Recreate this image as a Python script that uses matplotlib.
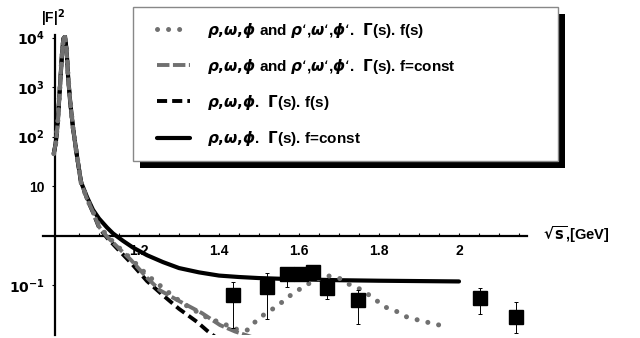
import matplotlib
matplotlib.use("Agg")
import matplotlib.pyplot as plt
from matplotlib.lines import Line2D
from matplotlib.legend_handler import HandlerLine2D
from matplotlib.patches import Rectangle
from matplotlib.transforms import IdentityTransform

plt.rcParams['font.family'] = ['Liberation Sans', 'DejaVu Sans']
plt.rcParams['font.weight'] = 'bold'

# ---- data ----
# common resonance region (phi peak)
x_peak = [0.987, 0.992, 0.997, 1.002, 1.007, 1.011, 1.015, 1.019, 1.023, 1.028, 1.035, 1.045, 1.055]
y_peak = [45, 75, 200, 900, 4000, 9500, 10500, 5500, 1500, 500, 150, 40, 12]

# rho,omega,phi. Gamma(s). f=const  (solid)
x_solid = [1.07, 1.085, 1.10, 1.12, 1.135, 1.16, 1.185, 1.22, 1.26, 1.30, 1.35, 1.40, 1.45, 1.50, 1.60, 1.70, 1.80, 1.90, 2.00]
y_solid = [6.0, 3.3, 2.2, 1.45, 1.1, 0.78, 0.57, 0.40, 0.29, 0.22, 0.18, 0.155, 0.145, 0.138, 0.13, 0.125, 0.122, 0.12, 0.118]

# rho,omega,phi and rho',omega',phi'. Gamma(s). f(s)  (dotted)
x_dot = [1.07, 1.085, 1.10, 1.12, 1.145, 1.18, 1.22, 1.27, 1.31, 1.37, 1.415, 1.447, 1.47, 1.50, 1.53, 1.5575,
         1.58, 1.61, 1.64, 1.67, 1.70, 1.73, 1.757, 1.785, 1.815, 1.845, 1.87, 1.9075, 1.94, 1.97]
y_dot = [5.5, 3.0, 1.6, 1.0, 0.62, 0.34, 0.16, 0.075, 0.042, 0.022, 0.016, 0.0125, 0.0122, 0.0216, 0.031, 0.045,
         0.063, 0.091, 0.126, 0.155, 0.138, 0.098, 0.08, 0.055, 0.036, 0.029, 0.0225, 0.0187, 0.0163, 0.0142]

# rho,omega,phi and rho',omega',phi'. Gamma(s). f=const  (grey long dash)
x_ldash = [1.07, 1.085, 1.10, 1.12, 1.145, 1.18, 1.22, 1.2525, 1.295, 1.3575, 1.4025, 1.44, 1.48]
y_ldash = [5.5, 3.0, 1.5, 0.95, 0.6, 0.32, 0.14, 0.078, 0.05, 0.027, 0.0155, 0.0115, 0.009]

# rho,omega,phi. Gamma(s). f(s)  (black dashed)
x_dash = [1.07, 1.085, 1.10, 1.12, 1.145, 1.18, 1.22, 1.26, 1.30, 1.345, 1.37, 1.39]
y_dash = [5.5, 2.9, 1.45, 0.9, 0.55, 0.28, 0.12, 0.062, 0.033, 0.018, 0.012, 0.009]

# experimental points
x_exp = [1.436, 1.52, 1.57, 1.605, 1.635, 1.67, 1.748, 2.052, 2.142]
y_exp = [0.063, 0.092, 0.165, 0.167, 0.185, 0.086, 0.05, 0.055, 0.023]
y_exp_hi = [0.117, 0.178, 0.217, 0.23, 0.24, 0.117, 0.079, 0.088, 0.046]
y_exp_lo = [0.0133, 0.0206, 0.093, 0.12, 0.13, 0.052, 0.0163, 0.026, 0.0106]

x_ticks = [1.2, 1.4, 1.6, 1.8, 2.0]
x_tick_labels = ['1.2', '1.4', '1.6', '1.8', '2']
x_minor = [1.05 + 0.05 * i for i in range(23)]
y_ticks = [1e-1, 10, 1e2, 1e3, 1e4]
y_tick_labels = [r'$\mathbf{10^{-1}}$', '10', r'$\mathbf{10^{2}}$', r'$\mathbf{10^{3}}$', r'$\mathbf{10^{4}}$']

labels = [r"$\rho{,}\omega{,}\phi$ and $\rho$‘,$\omega$‘,$\phi$‘.  $\Gamma$(s). f(s)",
          r"$\rho{,}\omega{,}\phi$ and $\rho$‘,$\omega$‘,$\phi$‘.  $\Gamma$(s). f=const",
          r"$\rho{,}\omega{,}\phi$.  $\Gamma$(s). f(s)",
          r"$\rho{,}\omega{,}\phi$.  $\Gamma$(s). f=const"]

# ---- figure ----
fig = plt.figure(figsize=(6.4, 3.38), dpi=100)
ax = fig.add_axes([43 / 640, 1 - 335 / 338, 484 / 640, 300 / 338])
ax.set_yscale('log')
ax.set_xlim(0.96, 2.17)
ax.set_ylim(10 ** ((235.5 - 335) / 49.5), 10 ** ((235.5 - 35) / 49.5))

grey = '#707070'
l_solid, = ax.plot(x_peak + x_solid, y_peak + y_solid, color='black', lw=3.0, solid_capstyle='round', zorder=3)
l_dash, = ax.plot(x_peak + x_dash, y_peak + y_dash, color='black', lw=2.8, linestyle=(0, (2.6, 1.3)), zorder=3.1)
l_ldash, = ax.plot(x_peak + x_ldash, y_peak + y_ldash, color=grey, lw=2.8, linestyle=(0, (3.2, 0.9)), zorder=3.2)
l_dot, = ax.plot(x_peak + x_dot, y_peak + y_dot, color=grey, lw=3.6, linestyle=(0, (0.01, 2.2)),
                 dash_capstyle='round', zorder=3.3)

yerr = [[y - lo for y, lo in zip(y_exp, y_exp_lo)], [hi - y for y, hi in zip(y_exp, y_exp_hi)]]
ax.errorbar(x_exp, y_exp, yerr=yerr, fmt='s', color='black', ms=10, elinewidth=0.7, capsize=1.5,
            capthick=0.7, zorder=4)

for s in ['top', 'right']:
    ax.spines[s].set_visible(False)
ax.spines['left'].set_position(('data', 0.99))
ax.spines['bottom'].set_position(('data', 1.0))
ax.spines['left'].set_linewidth(1.6)
ax.spines['bottom'].set_linewidth(1.6)
ax.set_axisbelow(True)

ax.set_xticks(x_ticks)
ax.set_xticklabels(x_tick_labels, fontsize=10, fontweight='bold')
ax.set_xticks(x_minor, minor=True)
ax.tick_params(axis='x', which='both', direction='in', length=2.5, width=0.8, pad=6)
ax.set_yticks(y_ticks)
ax.set_yticklabels(y_tick_labels, fontsize=10, fontweight='bold')
ax.yaxis.set_minor_locator(matplotlib.ticker.NullLocator())
ax.tick_params(axis='y', which='both', direction='out', length=2.5, width=0.8, pad=5)

fig.text(53 / 640, 1 - 18 / 338, r'|F|$^{\mathbf{2}}$', ha='center', va='center', fontsize=10, fontweight='bold')
fig.text(543 / 640, 1 - 235 / 338, r'$\sqrt{\mathbf{s}}$,[GeV]', ha='left', va='center', fontsize=10.5,
         fontweight='bold')

leg = ax.legend([l_dot, l_ldash, l_dash, l_solid], labels, loc='upper left',
                bbox_to_anchor=(133 / 640, 1 - 7 / 338, 425 / 640, 0.0), bbox_transform=fig.transFigure,
                mode='expand', borderaxespad=0, borderpad=0.85, labelspacing=1.08, handlelength=2.9,
                handletextpad=1.1, fancybox=False, framealpha=1, edgecolor='#888888',
                prop={'weight': 'bold', 'size': 11},
                handler_map={Line2D: HandlerLine2D(xpad=0.7)})
leg.get_frame().set_linewidth(1.0)
leg.set_zorder(6)

fig.canvas.draw()
bb = leg.get_window_extent()
shadow = Rectangle((bb.x0 + 7, bb.y0 - 7), bb.width, bb.height, transform=IdentityTransform(),
                   facecolor='black', edgecolor='none', zorder=5.9)
ax.add_artist(shadow)
shadow.set_clip_on(False)

fig.savefig('out.png', dpi=100)
